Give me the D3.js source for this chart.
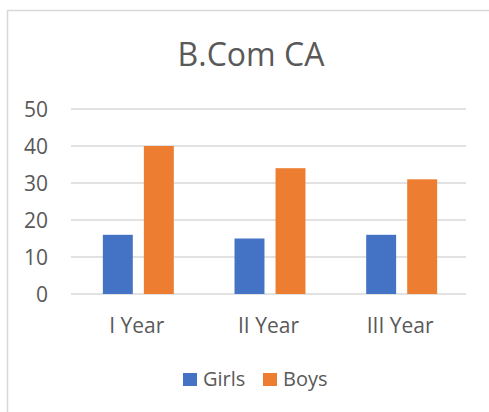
<!DOCTYPE html>
<html>
<head>
<meta charset="utf-8">
<script src="https://cdn.jsdelivr.net/npm/d3@7"></script>
<style>
  body { margin: 0; background: #fff; }
  text { font-family: "Open Sans", sans-serif; fill: #595959; }
</style>
</head>
<body>
<script>
// Data
var categories = ["I Year", "II Year", "III Year"];
var seriesNames = ["Girls", "Boys"];
var girls = [16, 15, 16];
var boys = [40, 34, 31];
var yTicks = [0, 10, 20, 30, 40, 50];
var colors = ["#4472c4", "#ed7d31"];

var width = 489, height = 412;
var plot = { left: 71, right: 466, top: 109, bottom: 294 };

var svg = d3.select("body").append("svg")
  .attr("width", width)
  .attr("height", height);

// chart border
svg.append("rect")
  .attr("x", 7.5).attr("y", 10.5)
  .attr("width", 500).attr("height", 420)
  .attr("fill", "white")
  .attr("stroke", "#d9d9d9")
  .attr("stroke-width", 1.5);

var rows = categories.map(function(c, i) {
  return { cat: c, values: [girls[i], boys[i]] };
});

var x0 = d3.scaleBand().domain(categories).range([plot.left, plot.right]);
var x1 = d3.scaleBand().domain(seriesNames)
  .range([0, x0.bandwidth()])
  .paddingInner(0.27)
  .paddingOuter(0.74);
var y = d3.scaleLinear().domain([0, 50]).range([plot.bottom, plot.top]);

// gridlines
svg.append("g")
  .selectAll("line")
  .data(yTicks)
  .enter()
  .append("line")
  .attr("x1", plot.left).attr("x2", plot.right)
  .attr("y1", function(d) { return y(d); })
  .attr("y2", function(d) { return y(d); })
  .attr("stroke", "#d9d9d9")
  .attr("stroke-width", 1.3);

// y labels
svg.append("g")
  .selectAll("text")
  .data(yTicks)
  .enter()
  .append("text")
  .attr("x", 48)
  .attr("y", function(d) { return y(d); })
  .attr("dy", "0.36em")
  .attr("text-anchor", "end")
  .style("font-size", "21px")
  .text(function(d) { return d; });

// bars
var groups = svg.append("g")
  .selectAll("g")
  .data(rows)
  .enter()
  .append("g")
  .attr("transform", function(d) { return "translate(" + x0(d.cat) + ",0)"; });

groups.selectAll("rect")
  .data(function(d) { return d.values; })
  .enter()
  .append("rect")
  .attr("x", function(d, i) { return x1(seriesNames[i]) + 1.5; })
  .attr("width", x1.bandwidth())
  .attr("y", function(d) { return y(d); })
  .attr("height", function(d) { return y(0) - y(d); })
  .attr("fill", function(d, i) { return colors[i]; });

// x labels
svg.append("g")
  .selectAll("text")
  .data(categories)
  .enter()
  .append("text")
  .attr("x", function(d) { return x0(d) + x0.bandwidth() / 2; })
  .attr("y", 333)
  .attr("text-anchor", "middle")
  .style("font-size", "21px")
  .text(function(d) { return d; });

// title
svg.append("text")
  .attr("x", 251)
  .attr("y", 66)
  .attr("text-anchor", "middle")
  .style("font-size", "32px")
  .text("B.Com CA");

// legend
var legendX = [183, 263];
var legend = svg.append("g")
  .selectAll("g")
  .data(seriesNames)
  .enter()
  .append("g")
  .attr("transform", function(d, i) { return "translate(" + legendX[i] + ",373)"; });

legend.append("rect")
  .attr("width", 14).attr("height", 13)
  .attr("fill", function(d, i) { return colors[i]; });

legend.append("text")
  .attr("x", 20)
  .attr("y", 13)
  .style("font-size", "20px")
  .text(function(d) { return d; });
</script>
</body>
</html>
